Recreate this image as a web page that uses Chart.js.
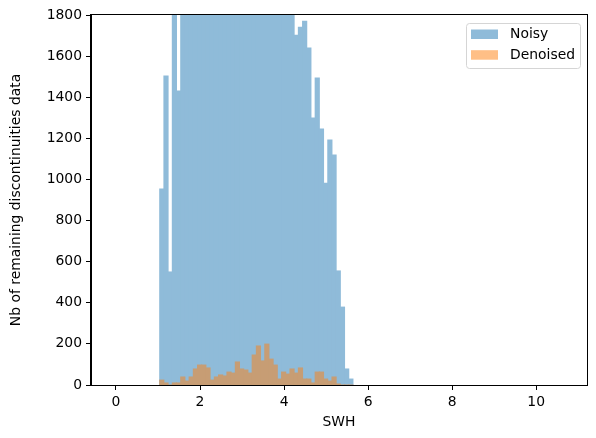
<!DOCTYPE html>
<html>
<head>
<meta charset="utf-8">
<script src="https://cdn.jsdelivr.net/npm/chart.js@4"></script>
<style>
  body { margin: 0; background: #fff; }
</style>
</head>
<body>
<canvas id="chart" width="596" height="438"></canvas>
<script>
// bin centres (SWH), bin width ~0.1
const binCenters = [
  1.09, 1.19, 1.29, 1.39, 1.49, 1.59, 1.69, 1.79, 1.89, 1.99,
  2.09, 2.19, 2.29, 2.39, 2.49, 2.59, 2.69, 2.79, 2.89, 2.99,
  3.09, 3.19, 3.29, 3.39, 3.49, 3.59, 3.69, 3.79, 3.89, 3.99,
  4.09, 4.19, 4.29, 4.39, 4.49, 4.59, 4.69, 4.79, 4.89, 4.99,
  5.09, 5.19, 5.29, 5.39, 5.49, 5.59
];

// counts; bins above 1800 are cut by the axis, those are estimates
const noisyCounts = [
  953, 1503, 550, 1900, 1430, 1950, 2100, 2250, 2400, 2550,
  2700, 2800, 2900, 3000, 3050, 3100, 3100, 3050, 3000, 2950,
  2900, 2800, 2700, 2600, 2500, 2400, 2300, 2200, 2100, 2000,
  1950, 1900, 1702, 1741, 1770, 1639, 1299, 1493, 1245, 982,
  1192, 1119, 555, 379, 78, 29
];

const denoisedCounts = [
  24, 10, 0, 10, 10, 39, 19, 39, 78, 97,
  97, 83, 24, 39, 49, 44, 63, 58, 112, 78,
  73, 58, 146, 190, 117, 199, 126, 97, 29, 63,
  53, 78, 58, 83, 29, 29, 10, 63, 63, 29,
  19, 39, 5, 0, 0, 0
];

const yTicks = [0, 200, 400, 600, 800, 1000, 1200, 1400, 1600, 1800];
const seriesNames = ['Noisy', 'Denoised'];

const FONT = 'DejaVu Sans';
// half-transparent C0 / C1 as seen on white and (for orange) over the blue bars;
// opaque so neighbouring bars don't leave seams
const blueFill = 'rgb(143, 187, 217)';
const orangeOverBlue = 'rgb(199, 157, 116)';
const legendColors = ['rgba(31, 119, 180, 0.5)', 'rgba(255, 127, 14, 0.5)'];

// top/right spines and the legend box, matplotlib style
const framePlugin = {
  id: 'frame',
  afterDraw(chart) {
    const { ctx, chartArea: a } = chart;
    ctx.save();
    ctx.strokeStyle = '#000';
    ctx.lineWidth = 1;
    ctx.strokeRect(Math.round(a.left) - 0.5, Math.round(a.top) - 0.5,
      Math.round(a.right - a.left) + 1, Math.round(a.bottom - a.top) + 1);

    // legend
    const bx = 466, by = 23, bw = 114, bh = 45, r = 3;
    ctx.beginPath();
    ctx.roundRect(bx + 0.5, by + 0.5, bw, bh, r);
    ctx.fillStyle = 'rgba(255,255,255,0.8)';
    ctx.fill();
    ctx.strokeStyle = '#d5d5d5';
    ctx.stroke();
    ctx.font = '13.9px "' + FONT + '"';
    ctx.textBaseline = 'middle';
    seriesNames.forEach((name, i) => {
      const y = by + 6.5 + i * 20.7;
      ctx.fillStyle = legendColors[i];
      ctx.fillRect(471, y, 27, 9.5);
      ctx.fillStyle = '#000';
      ctx.fillText(name, 510, y + 5);
    });
    ctx.restore();
  }
};

const ctx = document.getElementById('chart').getContext('2d');
new Chart(ctx, {
  type: 'bar',
  data: {
    labels: binCenters,
    datasets: [
      {
        label: seriesNames[0],
        data: noisyCounts,
        backgroundColor: blueFill,
        borderWidth: 0,
        inflateAmount: 0.5,
        grouped: false,
        order: 1,
        barPercentage: 1,
        categoryPercentage: 1
      },
      {
        label: seriesNames[1],
        data: denoisedCounts,
        backgroundColor: orangeOverBlue,
        borderWidth: 0,
        inflateAmount: 0.5,
        grouped: false,
        order: 0,
        barPercentage: 1,
        categoryPercentage: 1
      }
    ]
  },
  options: {
    responsive: false,
    animation: false,
    layout: { padding: { top: 15, right: 9, left: 0, bottom: 0 } },
    plugins: {
      legend: { display: false },
      tooltip: { enabled: false }
    },
    scales: {
      x: {
        type: 'linear',
        min: -0.595,
        max: 11.21,
        offset: false,
        grid: { offset: false, drawOnChartArea: false, color: '#000', tickLength: 5, tickWidth: 1 },
        border: { display: true, color: '#000', width: 1 },
        ticks: {
          stepSize: 2,
          includeBounds: false,
          color: '#000',
          padding: 4,
          maxRotation: 0,
          font: { family: FONT, size: 13.9 }
        },
        title: {
          display: true,
          text: 'SWH',
          color: '#000',
          font: { family: FONT, size: 13.9 },
          padding: { top: 0, bottom: 7 }
        },
        afterFit(scale) { scale.height = 53; }
      },
      y: {
        min: 0,
        max: 1800,
        grid: { drawOnChartArea: false, color: '#000', tickLength: 5, tickWidth: 1 },
        border: { display: true, color: '#000', width: 1 },
        afterBuildTicks(scale) { scale.ticks = yTicks.map(v => ({ value: v })); },
        ticks: {
          color: '#000',
          padding: 4,
          font: { family: FONT, size: 13.9 },
          callback: v => String(v)
        },
        title: {
          display: true,
          text: 'Nb of remaining discontinuities data',
          color: '#000',
          font: { family: FONT, size: 13.9 },
          padding: { top: 8, bottom: 0 }
        },
        afterFit(scale) { scale.width = 91; }
      }
    }
  },
  plugins: [framePlugin]
});
</script>
</body>
</html>
